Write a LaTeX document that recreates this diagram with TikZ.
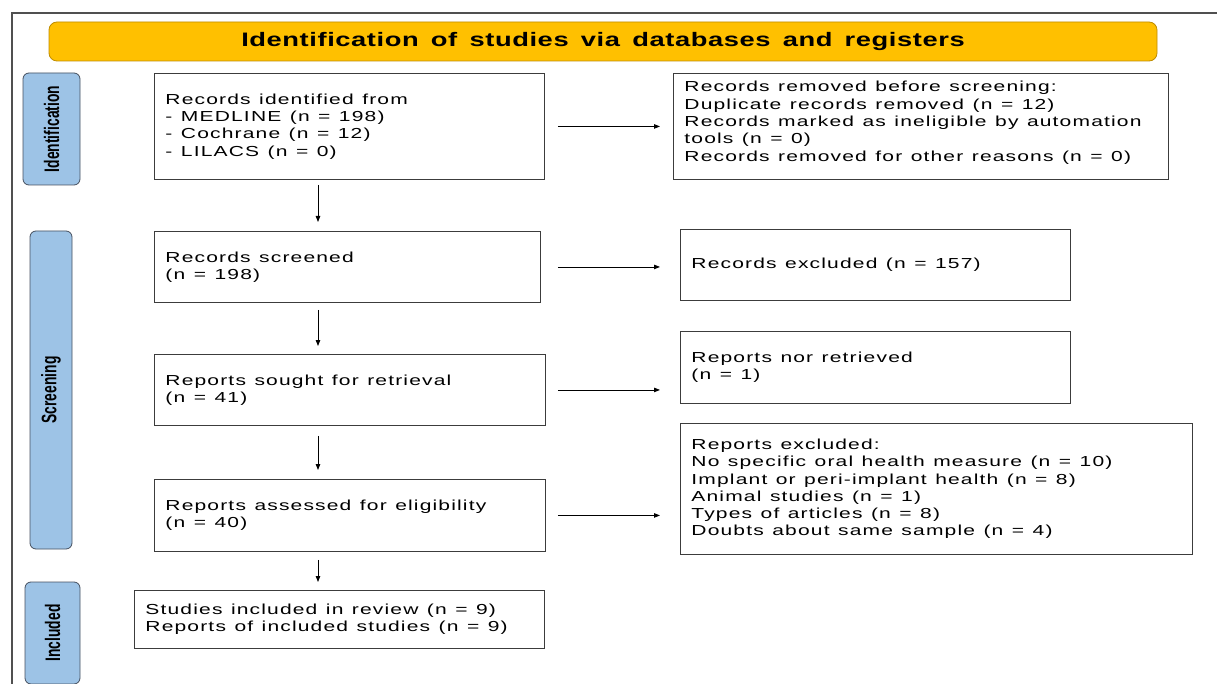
\documentclass[tikz,border=0pt]{standalone}
\usepackage{fontspec}
\setmainfont{Liberation Sans}[FakeStretch=1.45,LetterSpace=8]
\newfontfamily\titlefont{Liberation Sans}[FakeStretch=1.4,LetterSpace=3,WordSpace=1.5]
\newfontfamily\sidefont{Liberation Sans}[FakeStretch=0.66]
\newcommand\myboxfont{\fontsize{14.5}{17.3}\selectfont}
\usetikzlibrary{arrows.meta,calc}
\definecolor{banner}{RGB}{255,192,0}
\definecolor{bannerline}{RGB}{190,140,0}
\definecolor{phase}{RGB}{157,195,230}
\definecolor{phaseline}{RGB}{70,80,95}
\definecolor{boxline}{RGB}{60,60,60}
\definecolor{frameline}{RGB}{80,80,80}
\begin{document}
\begin{tikzpicture}[x=1pt,y=-1pt,
  stepbox/.style={draw=boxline, line width=0.9pt, align=left, inner xsep=11pt, inner ysep=0pt,
    anchor=north west, font=\myboxfont, execute at begin node={\spaceskip=8.5pt\relax}},
  phasebox/.style={draw=phaseline, fill=phase, rounded corners=6pt, line width=0.8pt, rotate=90,
    inner sep=0pt, font=\sidefont\bfseries\fontsize{21}{21}\selectfont},
  arr/.style={-{Triangle[length=6pt,width=4.5pt]}, line width=0.8pt},
  frame/.style={draw=frameline, line width=1.3pt}]
\useasboundingbox (0,0) rectangle (1217,684);

\draw[frame] (12,684) -- (12,13) -- (1217,13);

\node[draw=bannerline, fill=banner, rounded corners=8pt, line width=0.8pt,
  minimum width=1108, minimum height=39, inner sep=0pt] (title) at (603,41.5)
  {\titlefont\bfseries\fontsize{19.5}{20}\selectfont Identification of studies via databases and registers};

\node[phasebox, minimum width=112, minimum height=57] (pid) at (51.5,129) {Identification};
\node[phasebox, minimum width=318, minimum height=42] (psc) at (51,390) {Screening};
\node[phasebox, minimum width=102, minimum height=55] (pin) at (52.5,633) {Included};

\node[stepbox, text width=368, minimum height=106] (b1) at (154,73)
  {Records identified from\\- MEDLINE (n = 198)\\- Cochrane (n = 12)\\- LILACS (n = 0)};
\node[stepbox, text width=473, minimum height=106] (b2) at (673,73)
  {Records removed before screening:\\Duplicate records removed (n = 12)\\Records marked as ineligible by automation\\tools (n = 0)\\Records removed for other reasons (n = 0)\\[-7pt]\mbox{}};
\node[stepbox, text width=364, minimum height=71] (b3) at (154,231)
  {Records screened\\(n = 198)};
\node[stepbox, text width=368, minimum height=71] (b4) at (680,229)
  {Records excluded (n = 157)};
\node[stepbox, text width=369, minimum height=71] (b5) at (154,354)
  {Reports sought for retrieval\\(n = 41)};
\node[stepbox, text width=368, minimum height=72] (b6) at (680,331)
  {Reports nor retrieved\\(n = 1)};
\node[stepbox, text width=369, minimum height=72] (b7) at (154,479)
  {Reports assessed for eligibility\\(n = 40)};
\node[stepbox, text width=490, minimum height=131] (b8) at (680,423)
  {Reports excluded:\\No specific oral health measure (n = 10)\\Implant or peri-implant health (n = 8)\\Animal studies (n = 1)\\Types of articles (n = 8)\\Doubts about same sample (n = 4)};
\node[stepbox, text width=388, minimum height=58] (b9) at (134,590)
  {Studies included in review (n = 9)\\Reports of included studies (n = 9)};

\coordinate (ax) at (318,0);
\draw[arr] ($(b1.south -| ax)+(0,5)$) -- ($(b3.north -| ax)+(0,-9)$);
\draw[arr] ($(b3.south -| ax)+(0,7)$) -- ($(b5.north -| ax)+(0,-8)$);
\draw[arr] ($(b5.south -| ax)+(0,10)$) -- ($(b7.north -| ax)+(0,-9)$);
\draw[arr] ($(b7.south -| ax)+(0,8)$) -- ($(b9.north -| ax)+(0,-8)$);

\draw[arr] ($(b1.east)+(13,0)$) -- ($(b2.west |- b1.east)+(-13,0)$);
\draw[arr] ($(b3.east)+(17,0)$) -- ($(b4.west |- b3.east)+(-20,0)$);
\draw[arr] ($(b5.east)+(12,0)$) -- ($(b6.west |- b5.east)+(-20,0)$);
\draw[arr] ($(b7.east)+(12,0)$) -- ($(b8.west |- b7.east)+(-20,0)$);
\end{tikzpicture}
\end{document}
